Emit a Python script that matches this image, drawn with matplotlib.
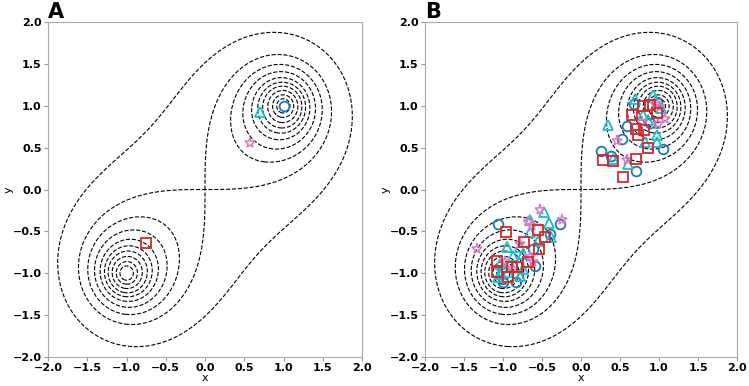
import numpy as np
import matplotlib
matplotlib.use("Agg")
import matplotlib.pyplot as plt

# two wells at (1,1) and (-1,-1); contours of the product of distances to both wells
wells = [(1.0, 1.0), (-1.0, -1.0)]
levels = [0.24, 0.38, 0.54, 0.70, 0.85, 1.03, 1.27, 1.57, 2.0, 3.04]

# panel A points
a_circ_x, a_circ_y = [1.0], [1.0]
a_tri_x, a_tri_y = [0.70], [0.93]
a_star_x, a_star_y = [0.57], [0.55]
a_sq_x, a_sq_y = [-0.75], [-0.64]

# panel B points
b_circ_x = [0.68, 0.585, 0.52, 0.25, 0.39, 1.05, 0.705, 0.98, 0.88,
            -1.06, -0.27, -0.61, -0.59, -0.83, -1.0, -0.40]
b_circ_y = [1.025, 0.755, 0.605, 0.465, 0.405, 0.485, 0.225, 1.05, 0.80,
            -0.41, -0.41, -0.71, -0.91, -1.11, -1.11, -0.53]

b_tri_x = [0.35, 0.69, 0.92, 0.80, 0.97, 0.82, 0.97, 0.415, 0.607, 0.86, 1.03,
           -0.48, -0.41, -0.65, -0.65, -0.55, -0.38, -0.95, -0.78, -0.87, -0.74,
           -1.04, -0.93, -0.74, -0.995, -1.06, -1.02, -0.78]
b_tri_y = [0.765, 1.085, 1.125, 0.885, 0.645, 0.565, 0.565, 0.365, 0.305, 0.83, 0.97,
           -0.27, -0.40, -0.363, -0.51, -0.61, -0.57, -0.69, -0.69, -0.79, -0.77,
           -0.89, -0.99, -0.95, -0.93, -1.05, -1.01, -1.03]

b_sq_x = [0.65, 0.80, 0.885, 0.705, 0.81, 0.727, 0.863, 0.278, 0.406, 0.705, 0.543, 0.97,
          -0.965, -0.73, -0.535, -0.55, -0.46, -0.675, -1.08, -1.08, -0.89, -0.93, -0.825]
b_sq_y = [0.893, 0.993, 1.005, 0.725, 0.705, 0.645, 0.497, 0.357, 0.345, 0.365, 0.145, 0.913,
          -0.51, -0.63, -0.71, -0.48, -0.57, -0.87, -0.85, -0.99, -0.93, -1.05, -0.93]

b_star_x = [0.457, 0.585, 0.78, 0.99, 1.08, 1.01, 0.95,
            -0.52, -0.24, -1.33, -0.78, -0.63, -0.675, -0.98, -0.87, -0.61, -0.65]
b_star_y = [0.585, 0.355, 0.805, 0.785, 0.845, 0.985, 1.025,
            -0.24, -0.37, -0.71, -0.65, -0.43, -0.39, -0.87, -0.95, -0.87, -0.81]

g = np.linspace(-2, 2, 801)
X, Y = np.meshgrid(g, g)
P = np.ones_like(X)
for wx, wy in wells:
    P = P * np.sqrt((X - wx) ** 2 + (Y - wy) ** 2)

fig = plt.figure(figsize=(7.49, 3.86), dpi=100)
axA = fig.add_axes([48 / 749, 29 / 386, 314 / 749, 335 / 386])
axB = fig.add_axes([425 / 749, 29 / 386, 312 / 749, 335 / 386])

blue, cyan, pink, red = "#1f77b4", "#17becf", "#e377c2", "#d62728"

def draw(ax, pts, label):
    ax.contour(X, Y, P, levels=levels, colors="k", linestyles="dashed", linewidths=0.8)
    cx, cy, tx, ty, sx, sy, qx, qy = pts
    ax.plot(cx, cy, "o", ms=7, mfc="none", mec=blue, mew=1.3, ls="none")
    ax.plot(tx, ty, "^", ms=7, mfc="none", mec=cyan, mew=1.3, ls="none")
    ax.plot(sx, sy, "*", ms=8, mfc="none", mec=pink, mew=1.1, ls="none")
    ax.plot(qx, qy, "s", ms=7, mfc="none", mec=red, mew=1.3, ls="none")
    ax.set_xlim(-2, 2)
    ax.set_ylim(-2, 2)
    ax.set_xticks(np.arange(-2, 2.01, 0.5))
    ax.set_yticks(np.arange(-2, 2.01, 0.5))
    for t in ax.get_xticklabels() + ax.get_yticklabels():
        t.set_fontweight("bold")
        t.set_fontsize(8)
    ax.tick_params(colors="#999999", labelcolor="black", length=3, pad=1.5)
    for s in ax.spines.values():
        s.set_color("#aaaaaa")
    ax.set_xlabel("x", fontsize=8)
    ax.set_ylabel("y", fontsize=8)
    ax.xaxis.set_label_coords(0.5, -0.048)
    ax.yaxis.set_label_coords(-0.11, 0.5)
    ax.set_title(label, loc="left", fontsize=15, fontweight="bold", pad=2)

draw(axA, (a_circ_x, a_circ_y, a_tri_x, a_tri_y, a_star_x, a_star_y, a_sq_x, a_sq_y), "A")
draw(axB, (b_circ_x, b_circ_y, b_tri_x, b_tri_y, b_star_x, b_star_y, b_sq_x, b_sq_y), "B")

fig.savefig("out.png", dpi=100)
